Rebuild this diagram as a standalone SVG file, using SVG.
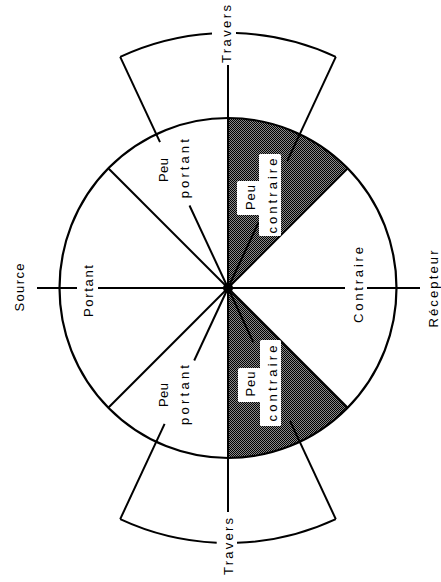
<svg xmlns="http://www.w3.org/2000/svg" width="441" height="582" viewBox="0 0 441 582">
  <defs>
    <pattern id="stipple" patternUnits="userSpaceOnUse" width="2" height="2">
      <rect width="2" height="2" fill="#8a8a8a"/>
      <rect x="0" y="0" width="1" height="1" fill="#000"/>
      <rect x="1" y="1" width="1" height="1" fill="#000"/>
    </pattern>
  </defs>
  <style>
    .ln { stroke: #000; stroke-width: 2; fill: none; stroke-linecap: butt; }
    .circ { stroke: #000; stroke-width: 2.2; fill: none; }
    .shade { fill: url(#stipple); stroke: none; }
    .box { fill: #fff; stroke: none; }
    .t { font-family: "Liberation Sans", "DejaVu Sans", sans-serif; font-size: 13px; fill: #000; text-anchor: middle; }
  </style>
  <rect width="441" height="582" fill="#fff"/>

  <!-- shaded sectors -->
  <g id="sector-peu-contraire-haut">
    <path class="shade" d="M228,288 L228,118 A168.5,170 0 0 1 347.7,168.3 Z"/>
  </g>
  <g id="sector-peu-contraire-bas">
    <path class="shade" d="M228,288 L228,458 A168.5,170 0 0 0 347.7,407.7 Z"/>
  </g>

  <g id="cercle">
    <ellipse class="circ" cx="228" cy="288" rx="168.5" ry="170"/>
  </g>

  <g id="connectors">
    <!-- outer boxes arcs -->
    <path class="ln" d="M120.2,56.9 A255,255 0 0 1 212,33.5"/>
    <path class="ln" d="M236,33.1 A255,255 0 0 1 335.8,56.9"/>
    <path class="ln" d="M120.2,519.1 A255,255 0 0 0 216.7,542.7"/>
    <path class="ln" d="M237,542.8 A255,255 0 0 0 335.8,519.1"/>
    <!-- radial lines at 25 degrees -->
    <line class="ln" x1="120.2" y1="56.9" x2="160" y2="142.1"/>
    <line class="ln" x1="189.5" y1="205.5" x2="228" y2="288"/>
    <line class="ln" x1="335.8" y1="56.9" x2="287.2" y2="161.1"/>
    <line class="ln" x1="258.4" y1="222.7" x2="228" y2="288"/>
    <line class="ln" x1="120.2" y1="519.1" x2="164.6" y2="423.9"/>
    <line class="ln" x1="194.2" y1="360.5" x2="228" y2="288"/>
    <line class="ln" x1="335.8" y1="519.1" x2="290.1" y2="421.2"/>
    <line class="ln" x1="253.4" y1="342.4" x2="228" y2="288"/>
    <!-- 45 degree lines -->
    <line class="ln" x1="228" y1="288" x2="108.3" y2="168.3"/>
    <line class="ln" x1="228" y1="288" x2="347.7" y2="168.3"/>
    <line class="ln" x1="228" y1="288" x2="108.3" y2="407.7"/>
    <line class="ln" x1="228" y1="288" x2="347.7" y2="407.7"/>
    <!-- vertical axis -->
    <line class="ln" x1="228" y1="65" x2="228" y2="288"/>
    <line class="ln" x1="228" y1="288" x2="228" y2="512"/>
    <!-- horizontal axis -->
    <line class="ln" x1="37" y1="288" x2="77" y2="288"/>
    <line class="ln" x1="98" y1="288" x2="228" y2="288"/>
    <line class="ln" x1="228" y1="288" x2="345" y2="288"/>
    <line class="ln" x1="367" y1="288" x2="420" y2="288"/>
  </g>

  <g id="centre">
    <circle cx="228" cy="288" r="5" fill="#000"/>
  </g>

  <g id="travers-haut">
    <text class="t" transform="translate(231,34) rotate(-90)" textLength="58" lengthAdjust="spacing">Travers</text>
  </g>
  <g id="travers-bas">
    <text class="t" transform="translate(233,546.5) rotate(-90)" textLength="57" lengthAdjust="spacing">Travers</text>
  </g>
  <g id="source">
    <text class="t" transform="translate(23.5,287.5) rotate(-90)" textLength="48" lengthAdjust="spacing">Source</text>
  </g>
  <g id="recepteur">
    <text class="t" transform="translate(438,289) rotate(-90)" textLength="77" lengthAdjust="spacing">Récepteur</text>
  </g>
  <g id="portant">
    <text class="t" transform="translate(93,291) rotate(-90)" textLength="52" lengthAdjust="spacing">Portant</text>
  </g>
  <g id="contraire">
    <text class="t" transform="translate(362.5,285) rotate(-90)" textLength="76" lengthAdjust="spacing">Contraire</text>
  </g>
  <g id="peu-portant-haut">
    <text class="t" transform="translate(167.7,170) rotate(-90)" textLength="24" lengthAdjust="spacing">Peu</text>
    <text class="t" transform="translate(188.5,168.7) rotate(-90)" textLength="59" lengthAdjust="spacing">portant</text>
  </g>
  <g id="peu-portant-bas">
    <text class="t" transform="translate(167.7,395) rotate(-90)" textLength="24" lengthAdjust="spacing">Peu</text>
    <text class="t" transform="translate(189,395) rotate(-90)" textLength="60" lengthAdjust="spacing">portant</text>
  </g>
  <g id="peu-contraire-haut">
    <rect class="box" x="237" y="181" width="23" height="34" rx="1.5"/>
    <rect class="box" x="259" y="154" width="22" height="82" rx="1.5"/>
    <text class="t" transform="translate(254.5,197.5) rotate(-90)" textLength="25" lengthAdjust="spacing">Peu</text>
    <text class="t" transform="translate(277,196) rotate(-90)" textLength="75" lengthAdjust="spacing">contraire</text>
  </g>
  <g id="peu-contraire-bas">
    <rect class="box" x="238" y="368" width="23" height="34" rx="1.5"/>
    <rect class="box" x="260" y="340" width="21" height="86" rx="1.5"/>
    <text class="t" transform="translate(255,384) rotate(-90)" textLength="25" lengthAdjust="spacing">Peu</text>
    <text class="t" transform="translate(277,383.5) rotate(-90)" textLength="76" lengthAdjust="spacing">contraire</text>
  </g>
</svg>
